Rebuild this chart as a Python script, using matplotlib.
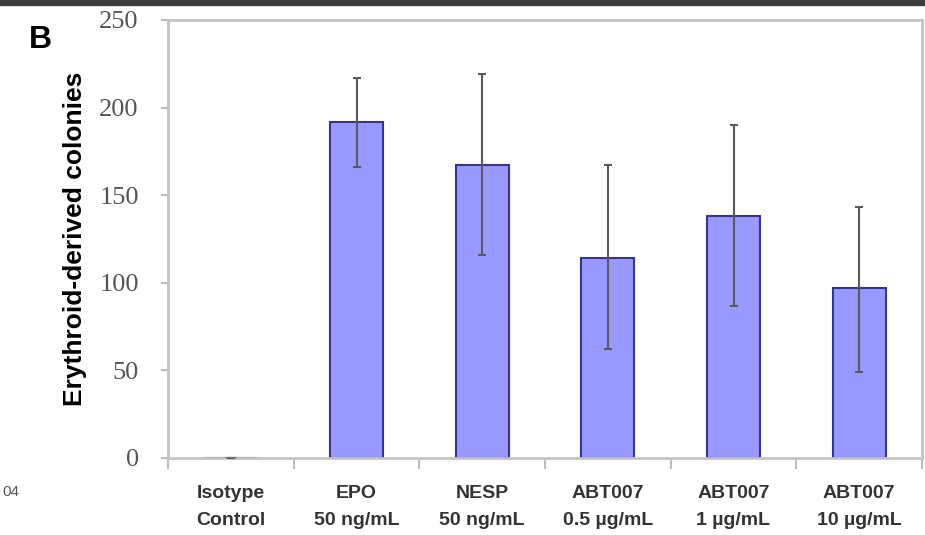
import matplotlib.pyplot as plt
import numpy as np
from matplotlib.patches import Rectangle

categories = ["Isotype\nControl", "EPO\n50 ng/mL", "NESP\n50 ng/mL",
              "ABT007\n0.5 µg/mL", "ABT007\n1 µg/mL", "ABT007\n10 µg/mL"]
means = [0, 192, 167, 114, 138, 97]
err_low = [0, 26, 51, 52, 51, 48]
err_high = [0, 25, 52, 53, 52, 46]
yticks = [0, 50, 100, 150, 200, 250]

plt.rcParams['font.family'] = ['Liberation Sans', 'DejaVu Sans']

fig = plt.figure(figsize=(9.25, 5.35), dpi=100)
fig.patch.set_facecolor("white")
# dark band at the top edge
fig.add_artist(Rectangle((0, 1 - 5 / 535), 1, 5 / 535, transform=fig.transFigure,
                         color="#3c3c3c", zorder=0))

ax = fig.add_axes([168 / 925, 77 / 535, 754 / 925, 438 / 535])
x = np.arange(len(categories))
ax.bar(x, means, width=0.42, color="#9999ff", edgecolor="#333399", linewidth=1.5, zorder=2)
ax.errorbar(x, means, yerr=[err_low, err_high], fmt="none", ecolor="#5a5a5a",
            elinewidth=1.5, capsize=3, capthick=1.5, zorder=3)
# isotype control: tiny dash at zero
ax.plot([x[0] - 0.04, x[0] + 0.04], [0, 0], color="#777777", lw=1.5, zorder=3)

ax.set_xlim(-0.5, len(categories) - 0.5)
ax.set_ylim(0, 250)
ax.set_yticks(yticks)
ax.set_yticklabels([str(v) for v in yticks], family="Liberation Serif",
                   fontsize=19, color="#555555")
ax.set_xticks(np.arange(len(categories) + 1) - 0.5, minor=False)
ax.set_xticklabels([])
ax.set_xticks(x, minor=True)
ax.set_xticklabels(categories, minor=True, fontsize=14, fontweight="bold", color="#333333",
                   linespacing=1.75)
ax.tick_params(axis="x", which="major", length=8, color="#bbbbbb", width=1.5)
ax.tick_params(axis="x", which="minor", length=0, pad=19.5)
ax.tick_params(axis="y", length=5, color="#bbbbbb", width=1.5, pad=16)

for s in ax.spines.values():
    s.set_color("#c4c4c4")
    s.set_linewidth(2)

ax.set_ylabel("Erythroid-derived colonies", fontsize=19, fontweight="bold", labelpad=9)

fig.text(40 / 925, 1 - 40 / 535, "B", fontsize=23, fontweight="bold", ha="center", va="center")
fig.text(2 / 925, 1 - 492 / 535, "04", fontsize=11, color="#555555", va="center")

plt.savefig("out.png", dpi=100)
